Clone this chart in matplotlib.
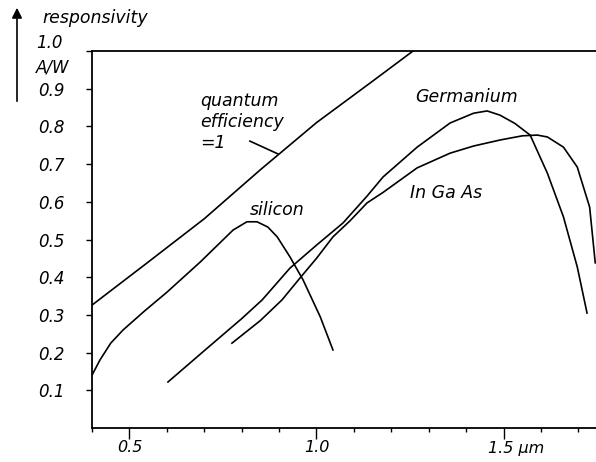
import matplotlib
matplotlib.use("Agg")
import matplotlib.pyplot as plt
from matplotlib.transforms import ScaledTranslation

# wavelength (um) / responsivity (A/W) pairs for each curve
qe_wl = [0.40, 0.55, 0.70, 0.85, 1.00, 1.15, 1.258]
qe_resp = [0.326, 0.44, 0.555, 0.685, 0.81, 0.92, 1.00]

si_wl = [0.40, 0.421, 0.45, 0.483, 0.54, 0.60, 0.689, 0.777, 0.814, 0.841,
         0.87, 0.895, 0.929, 0.964, 1.01, 1.044]
si_resp = [0.14, 0.18, 0.225, 0.26, 0.31, 0.36, 0.44, 0.525, 0.547, 0.547,
           0.533, 0.507, 0.454, 0.393, 0.295, 0.207]

ge_wl = [0.603, 0.70, 0.80, 0.855, 0.929, 1.00, 1.071, 1.135, 1.178, 1.269,
         1.357, 1.42, 1.456, 1.49, 1.53, 1.571, 1.617, 1.66, 1.697, 1.723]
ge_resp = [0.122, 0.205, 0.29, 0.34, 0.424, 0.485, 0.544, 0.615, 0.666, 0.745,
           0.809, 0.835, 0.841, 0.83, 0.808, 0.777, 0.676, 0.56, 0.427, 0.305]

ingaas_wl = [0.774, 0.85, 0.908, 0.956, 1.00, 1.044, 1.09, 1.135, 1.178, 1.269,
             1.357, 1.42, 1.491, 1.55, 1.59, 1.617, 1.66, 1.697, 1.73, 1.745]
ingaas_resp = [0.225, 0.285, 0.34, 0.398, 0.45, 0.507, 0.55, 0.597, 0.625, 0.69,
               0.729, 0.748, 0.764, 0.775, 0.777, 0.772, 0.745, 0.692, 0.586, 0.438]

y_ticks = [0.1, 0.2, 0.3, 0.4, 0.5, 0.6, 0.7, 0.8, 0.9, 1.0]
y_labels = ["0.1", "0.2", "0.3", "0.4", "0.5", "0.6", "0.7", "0.8", "0.9", ""]
x_ticks = [0.5, 1.0, 1.5]
x_labels = ["0.5", "1.0", "1.5 \u00b5m"]
x_minor = [0.4, 0.6, 0.7, 0.8, 0.9, 1.1, 1.2, 1.3, 1.4, 1.6, 1.7]

FONT = dict(family="DejaVu Sans", style="italic", size=12, color="black")
XFONT = dict(FONT, size=11.5)
LABEL_FONT = dict(FONT, size=12.5)

fig = plt.figure(figsize=(5.96, 4.62), dpi=100)
fig.patch.set_facecolor("white")
ax = fig.add_axes([92 / 596, 34 / 462, 504 / 596, 377 / 462])

lw = 1.2
ax.plot(qe_wl, qe_resp, color="black", lw=lw)
ax.plot(si_wl, si_resp, color="black", lw=lw)
ax.plot(ge_wl, ge_resp, color="black", lw=lw)
ax.plot(ingaas_wl, ingaas_resp, color="black", lw=lw, clip_on=False)

ax.set_xlim(0.4, 1.747)
ax.set_ylim(0.0, 1.0)

ax.spines["right"].set_visible(False)
for side in ("left", "bottom", "top"):
    ax.spines[side].set_linewidth(1.3)

ax.set_yticks(y_ticks)
ax.set_yticklabels(y_labels, fontdict=FONT)
ax.set_xticks(x_ticks)
ax.set_xticklabels(x_labels, fontdict=XFONT)
ax.set_xticks(x_minor, minor=True)
ax.tick_params(axis="y", direction="out", length=4.5, width=1.0, pad=15)
ax.tick_params(axis="x", which="major", direction="out", length=8, width=1.0, pad=1)
ax.tick_params(axis="x", which="minor", direction="out", length=3, width=1.0)

# unit label sits to the right of the last tick value
last = ax.get_xticklabels()[-1]
last.set_horizontalalignment("left")
last.set_transform(last.get_transform() + ScaledTranslation(-0.16, 0, fig.dpi_scale_trans))

# curve labels
ax.text(1.264, 0.878, "Germanium", va="center", ha="left", **LABEL_FONT)
ax.text(1.250, 0.623, "In Ga As", va="center", ha="left", **LABEL_FONT)
ax.text(0.822, 0.578, "silicon", va="center", ha="left", **LABEL_FONT)
ax.text(0.689, 0.867, "quantum", va="center", ha="left", **LABEL_FONT)
ax.text(0.689, 0.812, "efficiency", va="center", ha="left", **LABEL_FONT)
ax.text(0.689, 0.756, "=1", va="center", ha="left", **LABEL_FONT)
ax.plot([0.822, 0.897], [0.761, 0.727], color="black", lw=1.2)

# axis title block at top left
fig.text(42 / 596, 1 - 18 / 462, "responsivity", va="center", ha="left", **LABEL_FONT)
fig.text(63 / 596, 1 - 43 / 462, "1.0", va="center", ha="right", **FONT)
fig.text(36 / 596, 1 - 68 / 462, "A/W", va="center", ha="left", **FONT)
fig.add_artist(matplotlib.patches.FancyArrowPatch(
    (17 / 596, 1 - 104 / 462), (17 / 596, 1 - 5 / 462),
    transform=fig.transFigure, arrowstyle="-|>,head_length=3,head_width=1.5",
    color="black", lw=1.2, mutation_scale=2))

fig.savefig("out.png", dpi=100, facecolor="white")
